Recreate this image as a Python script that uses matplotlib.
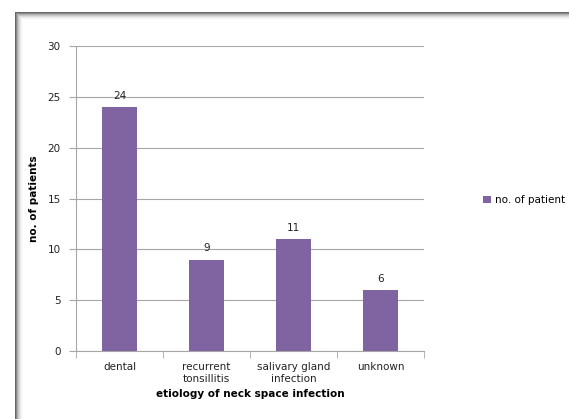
import matplotlib.pyplot as plt
from matplotlib.patches import Rectangle

categories = ['dental', 'recurrent\ntonsillitis', 'salivary gland\ninfection', 'unknown']
patients = [24, 9, 11, 6]
yticks = [0, 5, 10, 15, 20, 25, 30]

W, H = 569, 419
fig = plt.figure(figsize=(W / 100, H / 100), dpi=100)
fig.patch.set_facecolor('white')

# frame with a soft shadow fading in from the top and left edges
shades = [0.4, 0.55, 0.68, 0.78, 0.86, 0.92, 0.96, 0.985]
for i, g in enumerate(shades):
    fig.add_artist(Rectangle(((15 + i) / W, 0), 1 / W, (H - 12 - i) / H,
                             transform=fig.transFigure, color=str(g), lw=0))
    fig.add_artist(Rectangle(((15 + i) / W, (H - 13 - i) / H), 1, 1 / H,
                             transform=fig.transFigure, color=str(g), lw=0))

ax = fig.add_axes([76 / W, 1 - 351 / H, (424 - 76) / W, (351 - 46) / H])
x = range(len(categories))
bars = ax.bar(x, patients, width=0.4, color='#8064A2', label='no. of patient', zorder=3)
for b, v in zip(bars, patients):
    ax.text(b.get_x() + b.get_width() / 2, v + 0.6, str(v), ha='center', va='bottom',
            fontsize=7.5, color='#222222')

ax.set_xlim(-0.5, len(categories) - 0.5)
ax.set_ylim(0, 30)
ax.set_yticks(yticks)
ax.yaxis.grid(True, color='#a6a6a6', lw=0.8, zorder=0)
ax.set_xticks(x)
ax.set_xticklabels(categories, fontsize=7.5, color='#222222')
ax.tick_params(axis='x', length=0, pad=8)
ax.set_xticks([i - 0.5 for i in range(len(categories) + 1)], minor=True)
ax.tick_params(axis='x', which='minor', length=5, color='#a6a6a6', direction='out')
ax.tick_params(axis='y', length=5, color='#a6a6a6', labelsize=7.5, labelcolor='#222222', pad=6)
for s in ['top', 'right']:
    ax.spines[s].set_visible(False)
for s in ['left', 'bottom']:
    ax.spines[s].set_color('#a6a6a6')
    ax.spines[s].set_linewidth(0.8)

ax.set_xlabel('etiology of neck space infection', fontsize=7.5, fontweight='bold', labelpad=4)
ax.set_ylabel('no. of patients', fontsize=7.5, fontweight='bold', labelpad=6)

fig.legend(handles=[bars], labels=['no. of patient'], loc='center left',
           bbox_to_anchor=(474 / W, 1 - 200 / H), frameon=False, fontsize=7.5,
           handlelength=0.7, handleheight=0.7, handletextpad=0.4)

fig.savefig('out.png', dpi=100)
